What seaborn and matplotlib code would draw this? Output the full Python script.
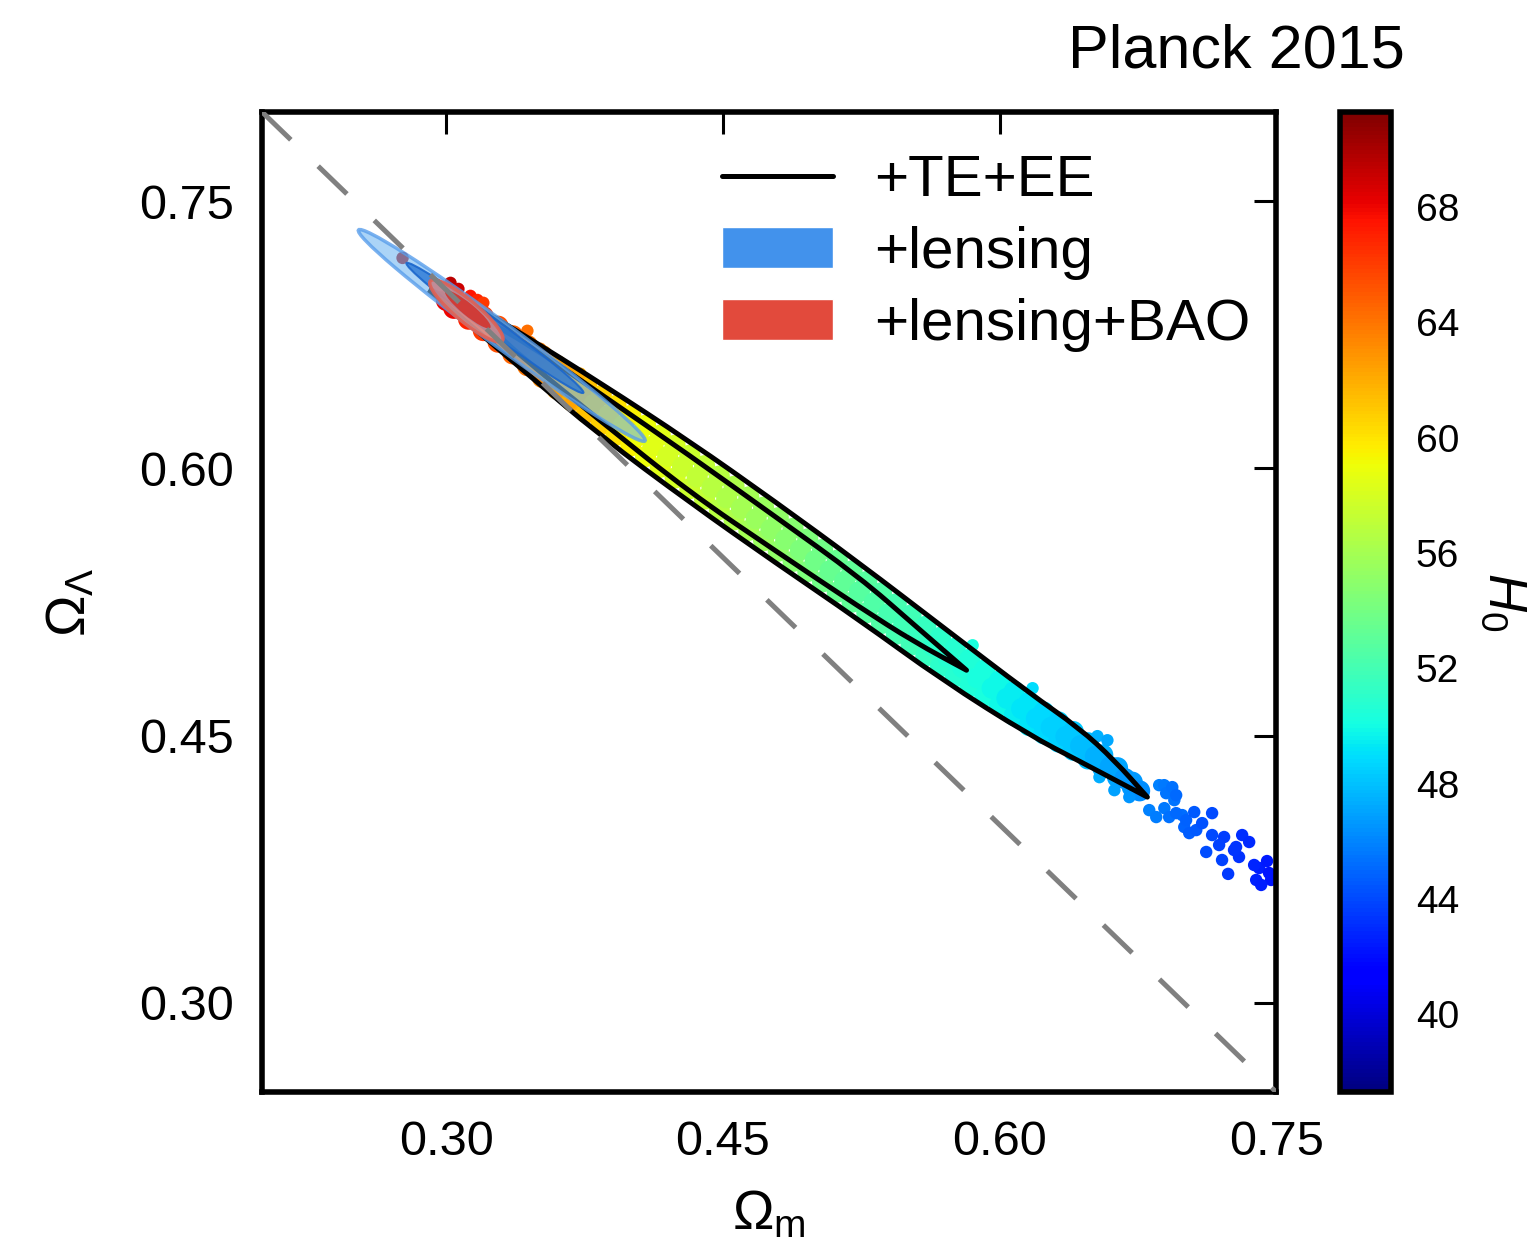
import numpy as np
import pandas as pd
import matplotlib
matplotlib.use("Agg")
import matplotlib.pyplot as plt
import seaborn as sns
from matplotlib.patches import Ellipse, Patch, PathPatch
from matplotlib.lines import Line2D
from matplotlib.path import Path

# MCMC samples (TT+TE+EE), dense part of the band
core_om = [0.300, 0.304, 0.304, 0.308, 0.312, 0.312, 0.316, 0.320, 0.320, 0.324, 0.328, 0.328,
           0.332, 0.336, 0.336, 0.340, 0.344, 0.344, 0.348, 0.352, 0.352, 0.356, 0.360, 0.360,
           0.364, 0.368, 0.368, 0.372, 0.376, 0.376, 0.380, 0.384, 0.384, 0.388, 0.392, 0.392,
           0.396, 0.400, 0.400, 0.404, 0.408, 0.408, 0.412, 0.416, 0.416, 0.420, 0.424, 0.424,
           0.428, 0.432, 0.432, 0.436, 0.440, 0.440, 0.444, 0.448, 0.448, 0.452, 0.456, 0.456,
           0.460, 0.464, 0.464, 0.468, 0.472, 0.472, 0.476, 0.480, 0.480, 0.484, 0.488, 0.488,
           0.492, 0.496, 0.496, 0.500, 0.504, 0.504, 0.508, 0.512, 0.512, 0.516, 0.520, 0.520,
           0.524, 0.528, 0.528, 0.532, 0.536, 0.536, 0.540, 0.544, 0.544, 0.548, 0.552, 0.552,
           0.556, 0.560, 0.560, 0.564, 0.568, 0.568, 0.572, 0.576, 0.576, 0.580, 0.584, 0.584,
           0.588, 0.592, 0.592, 0.596, 0.600, 0.600, 0.604, 0.608, 0.608, 0.612, 0.616, 0.616,
           0.620, 0.624, 0.624, 0.628, 0.632, 0.632, 0.636, 0.640, 0.640, 0.644, 0.648, 0.648,
           0.652, 0.656, 0.656, 0.660, 0.664, 0.664, 0.668, 0.672, 0.672, 0.676]
core_ol = [0.6942, 0.6938, 0.6898, 0.6893, 0.6901, 0.6837, 0.6843, 0.6852, 0.6773, 0.6783, 0.6798, 0.6708,
           0.6723, 0.6744, 0.6642, 0.6663, 0.6689, 0.6576, 0.6602, 0.6633, 0.6510, 0.6541, 0.6577, 0.6444,
           0.6480, 0.6521, 0.6378, 0.6419, 0.6465, 0.6311, 0.6358, 0.6409, 0.6246, 0.6298, 0.6353, 0.6186,
           0.6241, 0.6297, 0.6126, 0.6183, 0.6242, 0.6066, 0.6125, 0.6186, 0.6006, 0.6067, 0.6130, 0.5946,
           0.6009, 0.6074, 0.5886, 0.5951, 0.6015, 0.5827, 0.5892, 0.5957, 0.5769, 0.5834, 0.5899, 0.5711,
           0.5775, 0.5840, 0.5652, 0.5717, 0.5782, 0.5594, 0.5658, 0.5723, 0.5535, 0.5600, 0.5663, 0.5478,
           0.5542, 0.5604, 0.5421, 0.5483, 0.5545, 0.5363, 0.5425, 0.5485, 0.5306, 0.5366, 0.5425, 0.5249,
           0.5308, 0.5365, 0.5190, 0.5246, 0.5302, 0.5129, 0.5185, 0.5240, 0.5069, 0.5123, 0.5177, 0.5008,
           0.5062, 0.5114, 0.4947, 0.5000, 0.5052, 0.4887, 0.4940, 0.4991, 0.4831, 0.4882, 0.4930, 0.4776,
           0.4824, 0.4869, 0.4722, 0.4766, 0.4808, 0.4667, 0.4709, 0.4748, 0.4612, 0.4651, 0.4687, 0.4557,
           0.4596, 0.4632, 0.4510, 0.4546, 0.4577, 0.4464, 0.4495, 0.4523, 0.4418, 0.4444, 0.4460, 0.4369,
           0.4384, 0.4392, 0.4318, 0.4325, 0.4320, 0.4266, 0.4259, 0.4239, 0.4211, 0.4190]
core_h0 = [68.0, 68.0, 68.0, 67.0, 67.0, 67.0, 66.2, 66.2, 66.2, 65.4, 65.4, 65.4,
           64.6, 64.6, 64.6, 63.9, 63.9, 63.9, 63.2, 63.2, 63.2, 62.5, 62.5, 62.5,
           61.9, 61.9, 61.9, 61.3, 61.3, 61.3, 60.7, 60.7, 60.7, 60.1, 60.1, 60.1,
           59.6, 59.6, 59.6, 59.0, 59.0, 59.0, 58.5, 58.5, 58.5, 58.0, 58.0, 58.0,
           57.6, 57.6, 57.6, 57.1, 57.1, 57.1, 56.7, 56.7, 56.7, 56.3, 56.3, 56.3,
           55.9, 55.9, 55.9, 55.5, 55.5, 55.5, 55.1, 55.1, 55.1, 54.7, 54.7, 54.7,
           54.3, 54.3, 54.3, 53.9, 53.9, 53.9, 53.5, 53.5, 53.5, 53.2, 53.2, 53.2,
           52.8, 52.8, 52.8, 52.5, 52.5, 52.5, 52.1, 52.1, 52.1, 51.8, 51.8, 51.8,
           51.4, 51.4, 51.4, 51.1, 51.1, 51.1, 50.8, 50.8, 50.8, 50.5, 50.5, 50.5,
           50.2, 50.2, 50.2, 49.8, 49.8, 49.8, 49.5, 49.5, 49.5, 49.2, 49.2, 49.2,
           48.8, 48.8, 48.8, 48.5, 48.5, 48.5, 48.2, 48.2, 48.2, 47.9, 47.9, 47.9,
           47.5, 47.5, 47.5, 47.1, 47.1, 47.1, 46.7, 46.7, 46.7, 46.3]

# sparse samples: outliers round the band and the tail toward high Omega_m
tail_om = [0.2762, 0.3022, 0.3065, 0.3130, 0.3168, 0.3200, 0.3439, 0.3509, 0.3672, 0.3726,
           0.3672, 0.5854, 0.6179, 0.6531, 0.6585, 0.6542, 0.6623, 0.6704, 0.6866, 0.6948,
           0.6991, 0.6894, 0.6812, 0.6850, 0.6893, 0.6904, 0.6920, 0.6937, 0.6958, 0.6958,
           0.7002, 0.7012, 0.7029, 0.7067, 0.7099, 0.7121, 0.7153, 0.7153, 0.7207, 0.7218,
           0.7240, 0.7283, 0.7299, 0.7316, 0.7354, 0.7392, 0.7408, 0.7451, 0.7462, 0.7056,
           0.7191, 0.7272, 0.7381, 0.7473, 0.7419]
tail_ol = [0.7181, 0.7041, 0.7007, 0.6968, 0.6945, 0.6929, 0.6772, 0.6671, 0.6548, 0.6531,
           0.6363, 0.5007, 0.4766, 0.4497, 0.4474, 0.4267, 0.4194, 0.4155, 0.4222, 0.4138,
           0.4054, 0.4093, 0.4082, 0.4043, 0.4222, 0.4177, 0.4043, 0.4211, 0.4166, 0.4065,
           0.3987, 0.4026, 0.3953, 0.3970, 0.4009, 0.3847, 0.4065, 0.3942, 0.3802, 0.3931,
           0.3724, 0.3875, 0.3819, 0.3942, 0.3903, 0.3690, 0.3757, 0.3796, 0.3729, 0.4071,
           0.3886, 0.3858, 0.3774, 0.3690, 0.3662]
tail_h0 = [70.0, 69.5, 69.0, 67.5, 66.8, 66.2, 64.2, 63.5, 62.4, 61.9,
           62.3, 50.3, 48.9, 47.5, 47.2, 47.3, 46.9, 46.5, 45.8, 45.5,
           45.2, 45.6, 45.9, 45.7, 45.6, 45.5, 45.4, 45.3, 45.1, 45.1,
           44.9, 44.8, 44.7, 44.5, 44.3, 44.2, 44.0, 44.0, 43.7, 43.6,
           43.5, 43.3, 43.2, 43.1, 42.9, 42.7, 42.6, 42.4, 42.3, 44.5,
           43.8, 43.4, 42.8, 42.3, 42.6]

# TT+TE+EE contours (95% outer, 68% inner); first point repeated at the end
outer_om = [0.2903, 0.3146, 0.3401, 0.3834, 0.4321, 0.4782, 0.5242, 0.5702, 0.6163, 0.6433, 0.6623,
            0.6802, 0.6433, 0.6163, 0.5691, 0.5242, 0.4782, 0.4321, 0.3834, 0.3401, 0.3038, 0.2903]
outer_ol = [0.7001, 0.6917, 0.6760, 0.6480, 0.6150, 0.5814, 0.5466, 0.5102, 0.4738, 0.4542, 0.4362,
            0.4155, 0.4357, 0.4502, 0.4811, 0.5147, 0.5472, 0.5808, 0.6183, 0.6564, 0.6884, 0.7001]
inner_om = [0.3130, 0.3401, 0.3834, 0.4321, 0.4782, 0.5242, 0.5540, 0.5821,
            0.5540, 0.5242, 0.4782, 0.4321, 0.3834, 0.3401, 0.3292, 0.3130]
inner_ol = [0.6873, 0.6727, 0.6419, 0.6071, 0.5730, 0.5388, 0.5119, 0.4867,
            0.5024, 0.5220, 0.5539, 0.5864, 0.6267, 0.6632, 0.6738, 0.6873]

# +lensing and +lensing+BAO regions: 95% then 68%
lens_om = [0.3300, 0.3263]
lens_ol = [0.6746, 0.6788]
lens_len = [0.1953, 0.1204]
lens_wid = [0.0135, 0.0080]
lens_ang = [-37.3, -37.2]
bao_om = [0.3108, 0.3116]
bao_ol = [0.6884, 0.6892]
bao_len = [0.0515, 0.0320]
bao_wid = [0.0120, 0.0068]
bao_ang = [-40.8, -40.4]

flat_om = [0.20, 0.75]
flat_ol = [0.80, 0.25]

h0_ticks = [40, 44, 48, 52, 56, 60, 64, 68]
axis_ticks = [0.30, 0.45, 0.60, 0.75]

core = pd.DataFrame({"om": core_om, "ol": core_ol, "h0": core_h0})
tail = pd.DataFrame({"om": tail_om, "ol": tail_ol, "h0": tail_h0})


def contour_path(om, ol, tips):
    # smooth closed curve through the contour vertices, sharp at the tips
    q = []
    for i, p in enumerate(zip(om[:-1], ol[:-1])):
        q.append(p)
        if i in tips:
            q.append(p)
    q = np.array(q)
    n = len(q)
    mids = (q + np.roll(q, -1, axis=0)) / 2
    verts = [mids[0]]
    codes = [Path.MOVETO]
    for i in range(1, n + 1):
        verts += [q[i % n], mids[i % n]]
        codes += [Path.CURVE3, Path.CURVE3]
    return Path(verts, codes)


sns.set_theme(style="white")
plt.rcParams["font.family"] = ["Liberation Sans", "DejaVu Sans"]
plt.rcParams["mathtext.fontset"] = "custom"
plt.rcParams["mathtext.rm"] = "Liberation Sans"
plt.rcParams["mathtext.it"] = "Liberation Sans:italic"
plt.rcParams["mathtext.bf"] = "Liberation Sans:bold"
for key in ["text.color", "axes.labelcolor", "xtick.color", "ytick.color", "axes.edgecolor"]:
    plt.rcParams[key] = "black"

BLUE = "#4292ec"
RED = "#e24a3c"
cmap = plt.get_cmap("jet")
norm = plt.Normalize(37.3, 71.3)

fig = plt.figure(figsize=(15.38, 12.47), dpi=100)
ax = fig.add_axes([0.1704, 0.1243, 0.6593, 0.7859])
cax = fig.add_axes([0.8713, 0.1243, 0.0330, 0.7859])

sns.scatterplot(data=core, x="om", y="ol", hue="h0", palette=cmap, hue_norm=norm,
                s=230, linewidth=0, legend=False, ax=ax, zorder=2)
sns.scatterplot(data=tail, x="om", y="ol", hue="h0", palette=cmap, hue_norm=norm,
                s=80, linewidth=0, legend=False, ax=ax, zorder=2)

ax.add_patch(PathPatch(contour_path(outer_om, outer_ol, [0, 11]), fill=False,
                       edgecolor="black", lw=3.6, joinstyle="round", zorder=3))
ax.add_patch(PathPatch(contour_path(inner_om, inner_ol, [0, 7]), fill=False,
                       edgecolor="black", lw=3.6, joinstyle="round", zorder=3))

# lensing: light outer, dark inner
ax.add_patch(Ellipse((lens_om[0], lens_ol[0]), lens_len[0], lens_wid[0], angle=lens_ang[0],
                     facecolor=(0.45, 0.72, 0.95, 0.6), edgecolor=(0.35, 0.62, 0.92, 0.8),
                     lw=2.5, zorder=4))
ax.add_patch(Ellipse((lens_om[1], lens_ol[1]), lens_len[1], lens_wid[1], angle=lens_ang[1],
                     facecolor=(0.16, 0.47, 0.84, 0.8), edgecolor=(0.1, 0.4, 0.8, 0.9),
                     lw=1.5, zorder=4))
# lensing+BAO
ax.add_patch(Ellipse((bao_om[0], bao_ol[0]), bao_len[0], bao_wid[0], angle=bao_ang[0],
                     facecolor=(0.93, 0.55, 0.50, 0.75), edgecolor=(0.88, 0.38, 0.33, 0.9),
                     lw=2.5, zorder=5))
ax.add_patch(Ellipse((bao_om[1], bao_ol[1]), bao_len[1], bao_wid[1], angle=bao_ang[1],
                     facecolor=(0.82, 0.22, 0.20, 0.95), edgecolor="none", zorder=5))

ax.plot(flat_om, flat_ol, color="gray", lw=3.6, ls=(0, (8, 7.6)), zorder=6)

ax.set_xlim(0.20, 0.75)
ax.set_ylim(0.25, 0.80)
ax.set_xticks(axis_ticks)
ax.set_yticks(axis_ticks)
ax.set_xticklabels([f"{t:.2f}" for t in axis_ticks])
ax.set_yticklabels([f"{t:.2f}" for t in axis_ticks])
ax.tick_params(direction="in", length=16, width=2.2, top=True, right=True,
               labelsize=35, pad=20, colors="black")
for sp in ax.spines.values():
    sp.set_linewidth(4)
    sp.set_color("black")
ax.set_xlabel(r"$\Omega_{\rm m}$", fontsize=40, labelpad=18)
ax.set_ylabel(r"$\Omega_\Lambda$", fontsize=40, labelpad=30)

handles = [Line2D([], [], color="black", lw=3.6),
           Patch(facecolor=BLUE), Patch(facecolor=RED)]
ax.legend(handles, ["+TE+EE", "+lensing", "+lensing+BAO"], loc="upper left",
          bbox_to_anchor=(0.454, 0.957), frameon=False, fontsize=42,
          handlelength=1.9, handleheight=0.7, handletextpad=0.7,
          labelspacing=0.31, borderpad=0, borderaxespad=0)

sm = plt.cm.ScalarMappable(norm=norm, cmap=cmap)
cbar = fig.colorbar(sm, cax=cax)
cbar.set_ticks(h0_ticks)
cax.tick_params(direction="in", length=17, width=2, labelsize=28, pad=18,
                right=True, left=False, colors="black")
cbar.outline.set_linewidth(4)
cbar.outline.set_edgecolor("black")
cbar.set_label(r"$H_0$", rotation=270, fontsize=38, labelpad=50)

fig.text(0.9135, 0.9455, "Planck 2015", ha="right", va="baseline", fontsize=44)

fig.savefig("out.png", dpi=100)
